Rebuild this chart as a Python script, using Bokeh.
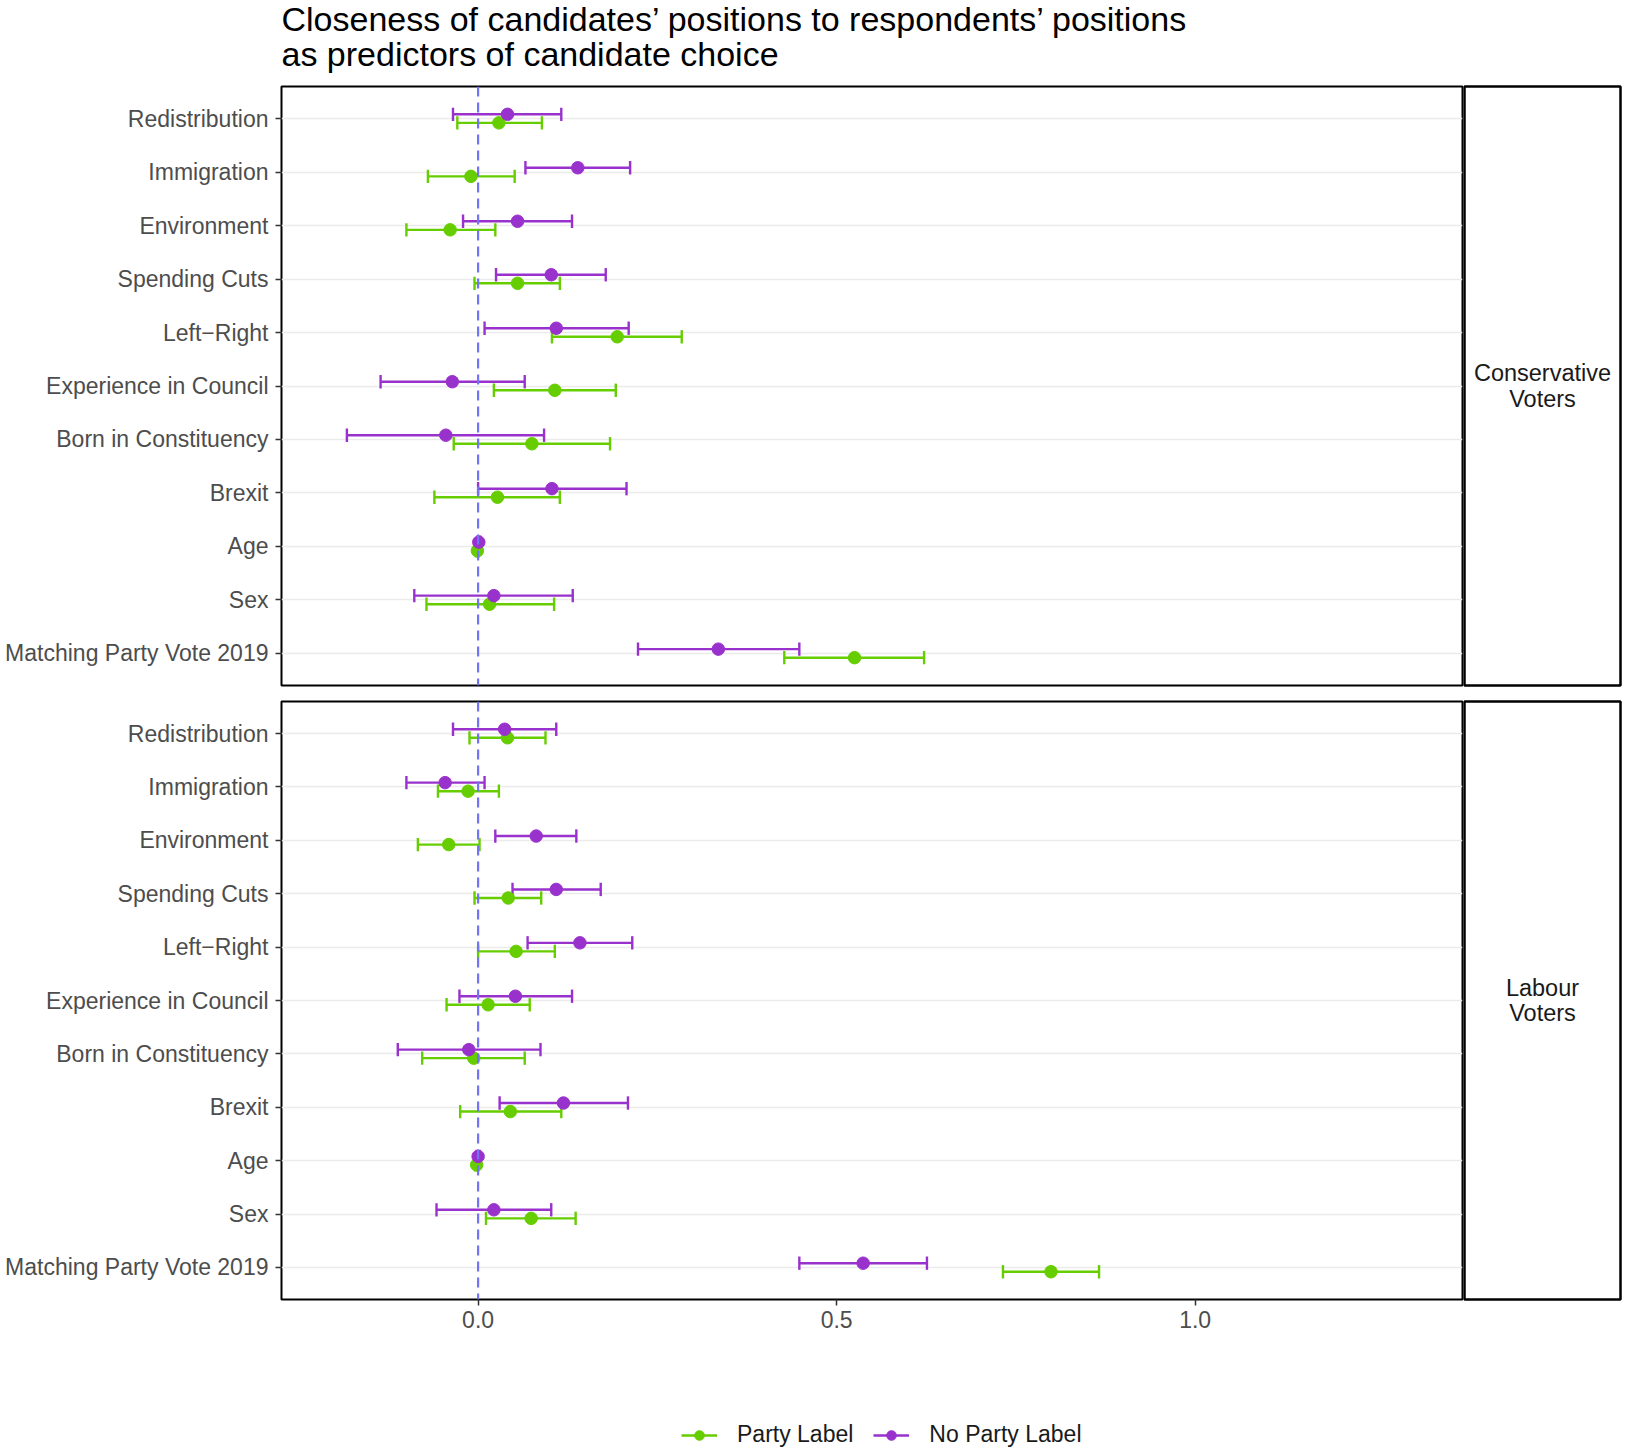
from bokeh.plotting import figure
from bokeh.models import (FactorRange, Range1d, Span, Label, Legend, LegendItem,
                          FixedTicker, NumeralTickFormatter, ColumnDataSource)
from bokeh.layouts import column, row
from bokeh.transform import dodge
from bokeh.core.properties import value
from bokeh.embed import file_html
from bokeh.resources import INLINE

FONT = "Liberation Sans"

# ---------------- data ----------------
categories = ["Redistribution", "Immigration", "Environment", "Spending Cuts",
              "Left\u2212Right", "Experience in Council", "Born in Constituency",
              "Brexit", "Age", "Sex", "Matching Party Vote 2019"]

facet_labels = ["Conservative\nVoters", "Labour\nVoters"]
series_names = ["Party Label", "No Party Label"]
series_colors = ["#66CD00", "#9932CC"]

title_lines = ["Closeness of candidates\u2019 positions to respondents\u2019 positions",
               "as predictors of candidate choice"]

x_ticks = [0.0, 0.5, 1.0]

# Conservative voters - Party Label
con_party_est = [0.029, -0.010, -0.039, 0.055, 0.194, 0.107, 0.075, 0.027, -0.001, 0.016, 0.525]
con_party_lo = [-0.029, -0.070, -0.100, -0.005, 0.103, 0.022, -0.034, -0.061, -0.003, -0.072, 0.427]
con_party_hi = [0.089, 0.051, 0.024, 0.114, 0.284, 0.192, 0.184, 0.114, 0.001, 0.106, 0.622]
# Conservative voters - No Party Label
con_noparty_est = [0.041, 0.139, 0.055, 0.102, 0.109, -0.036, -0.045, 0.103, 0.001, 0.022, 0.335]
con_noparty_lo = [-0.035, 0.066, -0.021, 0.025, 0.009, -0.136, -0.183, 0.000, -0.001, -0.089, 0.223]
con_noparty_hi = [0.116, 0.212, 0.131, 0.178, 0.210, 0.065, 0.092, 0.207, 0.003, 0.132, 0.448]
# Labour voters - Party Label
lab_party_est = [0.041, -0.014, -0.041, 0.042, 0.053, 0.014, -0.006, 0.045, -0.002, 0.074, 0.799]
lab_party_lo = [-0.012, -0.056, -0.084, -0.005, 0.000, -0.044, -0.078, -0.025, -0.004, 0.011, 0.732]
lab_party_hi = [0.094, 0.029, 0.002, 0.088, 0.107, 0.072, 0.065, 0.116, 0.000, 0.136, 0.866]
# Labour voters - No Party Label
lab_noparty_est = [0.037, -0.046, 0.081, 0.109, 0.142, 0.052, -0.013, 0.119, 0.000, 0.022, 0.537]
lab_noparty_lo = [-0.035, -0.100, 0.024, 0.048, 0.069, -0.026, -0.112, 0.030, -0.002, -0.058, 0.448]
lab_noparty_hi = [0.109, 0.009, 0.137, 0.171, 0.215, 0.131, 0.087, 0.209, 0.002, 0.102, 0.626]

panels = [
    [(con_party_est, con_party_lo, con_party_hi), (con_noparty_est, con_noparty_lo, con_noparty_hi)],
    [(lab_party_est, lab_party_lo, lab_party_hi), (lab_noparty_est, lab_noparty_lo, lab_noparty_hi)],
]

# ---------------- layout constants ----------------
FW = 1181
FHS = [599, 598]
LEFT = 281
DODGE = [-0.08, 0.08]
CAP = 0.125
TOTAL_W = 1622
LW = 2.4

x_range = Range1d(-0.2742, 1.3729)


def make_panel(series, fh, bottom):
    yr = FactorRange(factors=list(reversed(categories)), range_padding=0.2 / len(categories))
    p = figure(frame_width=FW, frame_height=fh, x_range=x_range, y_range=yr,
               output_backend="svg", toolbar_location=None,
               x_axis_location="below" if bottom else None,
               min_border_left=LEFT, min_border_right=1, min_border_top=2,
               min_border_bottom=46 if bottom else 14,
               background_fill_color="white", border_fill_color="white",
               outline_line_color="black", outline_line_width=2)
    p.xgrid.visible = False
    p.ygrid.grid_line_color = "#EBEBEB"
    p.ygrid.grid_line_width = 1.7

    p.yaxis.major_label_text_font = FONT
    p.yaxis.major_label_text_font_size = "23px"
    p.yaxis.major_label_text_color = "#4D4D4D"
    p.yaxis.major_tick_out = 6
    p.yaxis.major_tick_in = 0
    p.yaxis.major_tick_line_color = "#333333"
    p.yaxis.major_tick_line_width = 1.5
    p.yaxis.axis_line_color = None
    p.yaxis.major_label_standoff = 7

    if bottom:
        p.xaxis.ticker = FixedTicker(ticks=x_ticks)
        p.xaxis.formatter = NumeralTickFormatter(format="0.0")
        p.xaxis.major_label_text_font = FONT
        p.xaxis.major_label_text_font_size = "23px"
        p.xaxis.major_label_text_color = "#4D4D4D"
        p.xaxis.major_tick_out = 6
        p.xaxis.major_tick_in = 0
        p.xaxis.minor_tick_out = 0
        p.xaxis.minor_tick_in = 0
        p.xaxis.major_tick_line_color = "#333333"
        p.xaxis.major_tick_line_width = 1.5
        p.xaxis.axis_line_color = None
        p.xaxis.major_label_standoff = 5

    sources = []
    for (est, lo, hi) in series:
        sources.append(ColumnDataSource(dict(cat=categories, est=est, lo=lo, hi=hi)))

    # error bars
    for src, off, col in zip(sources, DODGE, series_colors):
        yc = dodge("cat", off, range=yr)
        y0 = dodge("cat", off - CAP, range=yr)
        y1 = dodge("cat", off + CAP, range=yr)
        p.segment(x0="lo", x1="hi", y0=yc, y1=yc, source=src,
                  line_color=col, line_width=LW, line_cap="butt")
        p.segment(x0="lo", x1="lo", y0=y0, y1=y1, source=src,
                  line_color=col, line_width=LW, line_cap="butt")
        p.segment(x0="hi", x1="hi", y0=y0, y1=y1, source=src,
                  line_color=col, line_width=LW, line_cap="butt")
    # points
    for src, off, col in zip(sources, DODGE, series_colors):
        p.scatter(x="est", y=dodge("cat", off, range=yr), source=src,
                  size=12.5, fill_color=col, line_color=col)

    p.add_layout(Span(location=0, dimension="height", line_color="#7373F5",
                      line_width=2.2, line_dash="10 6", level="overlay"))
    return p


def make_strip(label, fh):
    s = figure(frame_width=156, frame_height=fh, x_range=Range1d(0, 1), y_range=Range1d(0, 1),
               output_backend="svg", toolbar_location=None,
               x_axis_location=None, y_axis_location=None,
               min_border_left=1, min_border_right=2, min_border_top=2, min_border_bottom=2,
               background_fill_color="white", border_fill_color="white",
               outline_line_color="black", outline_line_width=2.5)
    s.grid.visible = False
    s.text(x=[0.5], y=[0.5], text=[label], text_align="center", text_baseline="middle",
           text_font=value(FONT), text_font_size="23.5px", text_color="#1A1A1A",
           text_line_height=0.97)
    s.align = "start"
    return s


# title
TITLE_H = 84
tf = figure(width=TOTAL_W, height=TITLE_H, x_range=Range1d(0, 1), y_range=Range1d(0, 1),
            output_backend="svg", toolbar_location=None,
            x_axis_location=None, y_axis_location=None, min_border=0,
            outline_line_color=None, background_fill_color="white", border_fill_color="white")
tf.grid.visible = False
tf.add_layout(Label(x=LEFT, y=66, x_units="screen", y_units="screen", text=title_lines[0],
                    text_font=FONT, text_font_size="34px", text_color="black",
                    text_baseline="alphabetic", text_align="left"))
tf.add_layout(Label(x=LEFT, y=31, x_units="screen", y_units="screen", text=title_lines[1],
                    text_font=FONT, text_font_size="34px", text_color="black",
                    text_baseline="alphabetic", text_align="left"))

rows = []
for i, series in enumerate(panels):
    bottom = (i == len(panels) - 1)
    p = make_panel(series, FHS[i], bottom)
    s = make_strip(facet_labels[i], FHS[i])
    rows.append(row(p, s, spacing=0))

# legend
nan = float("nan")
lf = figure(width=TOTAL_W, height=103, x_range=Range1d(0, 1), y_range=Range1d(0, 1),
            output_backend="svg", toolbar_location=None,
            x_axis_location=None, y_axis_location=None, min_border=0,
            outline_line_color=None, background_fill_color="white", border_fill_color="white")
lf.grid.visible = False
items = []
for name, col in zip(series_names, series_colors):
    src = ColumnDataSource(dict(x=[nan], y=[nan]))
    lr = lf.line("x", "y", source=src, line_color=col, line_width=2.5)
    sr = lf.scatter("x", "y", source=src, size=12, fill_color=col, line_color=col)
    items.append(LegendItem(label=name, renderers=[lr, sr]))
leg = Legend(items=items, orientation="horizontal", location=(681, 0),
             padding=0, margin=0, spacing=20, label_standoff=20,
             glyph_width=36, glyph_height=24, label_height=24,
             label_text_font=FONT, label_text_font_size="23px", label_text_color="#1A1A1A",
             border_line_color=None, background_fill_alpha=0)
lf.add_layout(leg, "center")

layout = column(tf, *rows, lf, spacing=0)

open("out.html", "w").write(file_html(layout, INLINE))
